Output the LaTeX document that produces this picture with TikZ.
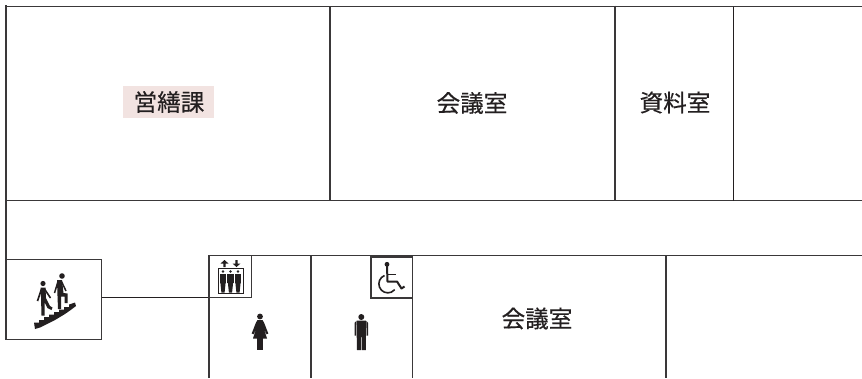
\documentclass[tikz,border=0pt]{standalone}
\usepackage{fontspec}
\newfontfamily\cjk[FakeBold=0.4]{Noto Sans CJK JP}
\definecolor{ink}{HTML}{231F20}
\definecolor{wallc}{HTML}{3A3839}
\definecolor{tag}{HTML}{F2E3E1}
\tikzset{
  wall/.style={draw=wallc,line width=1.3pt},
  thin wall/.style={draw=ink,line width=1.1pt},
  label/.style={font=\cjk\fontsize{23.6}{25}\selectfont,text=ink,inner sep=0pt,anchor=center},
  glyph/.style={fill=ink,draw=none},
  glyphline/.style={draw=ink,line cap=butt,line join=round}
}
\begin{document}
\begin{tikzpicture}[x=1pt,y=-1pt]
\useasboundingbox (0,0) rectangle (862,378);
\fill[white] (0,0) rectangle (862,378);
% upper wing
\draw[wall] (6,6.5) -- (862,6.5);
\draw[wall] (6,5) -- (6,339.5);
\draw[wall] (6,200.5) -- (862,200.5);
\draw[wall] (330,6.5) -- (330,200.5);
\draw[wall] (615,5.5) -- (615,201);
\draw[thin wall] (733.5,6.5) -- (733.5,201);
% stairs box and link
\draw[wall] (6,259.5) rectangle (101.5,339.5);
\draw[thin wall] (101.5,297.5) -- (209,297.5);
% lower wing
\draw[wall] (209,378) -- (209,255.5) -- (862,255.5);
\draw[wall] (311,255.5) -- (311,378);
\draw[wall] (412.5,255.5) -- (412.5,378);
\draw[wall] (666,255.5) -- (666,378);
\draw[wall] (209,297.5) -- (251.5,297.5) -- (251.5,255.5);
\draw[wall] (371,257) rectangle (412.5,298);
% labels
\fill[tag] (123,86) rectangle (214,118);
\node[label] (kaizen) at (169,102) {\cjk 営繕課};
\node[label] (room1) at (472,103) {\cjk 会議室};
\node[label] (room2) at (675,102.5) {\cjk 資料室};
\node[label] (room3) at (537,318.5) {\cjk 会議室};
% stairs icon
\fill[glyph] (34,322.5) -- (39,322.5) -- (39,320) -- (44,320) -- (44,317) -- (49,317) -- (49,314.5) -- (54,314.5) -- (54,312) -- (59,312) -- (59,309.5) -- (64,309.5) -- (64,307) -- (69,307) -- (69,304.5) -- (75,302.5) -- (76,306) -- (70,310.5) -- (65,314) -- (60,317) -- (55,320) -- (50,322.5) -- (45,325) -- (40,327.5) -- (35,329) -- cycle;
\fill[glyph] (43,283.5) circle (2.6);
\fill[glyph] (62,276) circle (2.8);
\fill[glyph] (40.5,287.5) -- (45.5,287.5) -- (46,298) -- (50,306) -- (52.5,307.5) -- (51.5,310) -- (47.5,308) -- (44.5,302) -- (44.5,315.5) -- (41.5,315.5) -- (41,297) -- cycle;
\draw[glyphline,line width=1.6pt] (37.5,301) -- (41.5,289);
\draw[glyphline,line width=1.6pt] (44.5,289) -- (50.5,298);
\fill[glyph] (57,280) -- (62,280) -- (63.5,293) -- (67.5,293.5) -- (67.5,303) -- (64.5,303) -- (64.5,296.5) -- (61,296.5) -- (61,309) -- (58,309) -- (57.5,296) -- cycle;
\draw[glyphline,line width=1.5pt] (54.5,293) -- (58,281.5);
\draw[glyphline,line width=1.5pt] (61.5,281.5) -- (66,291);
% elevator icon
\draw[draw=ink,line width=.9pt] (218.2,268.3) rectangle (243,293);
\foreach \cx in {223,230.5,238}{
  \fill[glyph] (\cx,271.5) circle (1.4);
  \fill[glyph] (\cx-3.2,273.7) rectangle (\cx+3.2,283);
  \fill[glyph] (\cx-2.6,283) -- (\cx+2.6,283) -- (\cx+1.6,292.5) -- (\cx-1.6,292.5) -- cycle;
}
\fill[glyph] (224.5,260) -- (228.5,263.5) -- (225.6,263.5) -- (225.6,267) -- (223.4,267) -- (223.4,263.5) -- (220.5,263.5) -- cycle;
\fill[glyph] (236.5,267) -- (240.5,263.5) -- (237.6,263.5) -- (237.6,260) -- (235.4,260) -- (235.4,263.5) -- (232.5,263.5) -- cycle;
% wheelchair icon
\fill[glyph] (387,264.3) circle (2.4);
\draw[glyphline,line width=2pt] (387,266) -- (387.5,281.5) -- (397,281.5) -- (401.5,288.5) -- (404.5,286.5);
\draw[glyphline,line width=1.7pt] (387.5,274.5) -- (396,274.5);
\draw[glyphline,line width=1.6pt] (384.5,275.5) arc[start angle=-112,end angle=-320,radius=9];
% woman icon
\fill[glyph] (260,316.5) circle (2.9);
\fill[glyph] (257.5,320) -- (262.5,320) -- (264,322.5) -- (268.3,333.5) -- (266.5,334.3) -- (263.7,328) -- (267,338.5) -- (253,338.5) -- (256.3,328) -- (253.5,334.3) -- (251.7,333.5) -- (256,322.5) -- cycle;
\fill[glyph] (257,338) rectangle (259.6,349.5);
\fill[glyph] (260.4,338) rectangle (263,349.5);
% man icon
\fill[glyph] (361.3,317) circle (3);
\fill[glyph] (356.7,320.5) -- (366,320.5) -- (366,335.5) -- (365.8,350) -- (361.9,350) -- (361.9,337) -- (361,337) -- (361,350) -- (357,350) -- (356.7,335.5) -- cycle;
\fill[glyph] (356.3,321) -- (354.5,323) -- (354.5,335.5) -- (356.1,335.5) -- cycle;
\fill[glyph] (366.4,321) -- (368.2,323) -- (368.2,335.5) -- (366.6,335.5) -- cycle;
\end{tikzpicture}
\end{document}
